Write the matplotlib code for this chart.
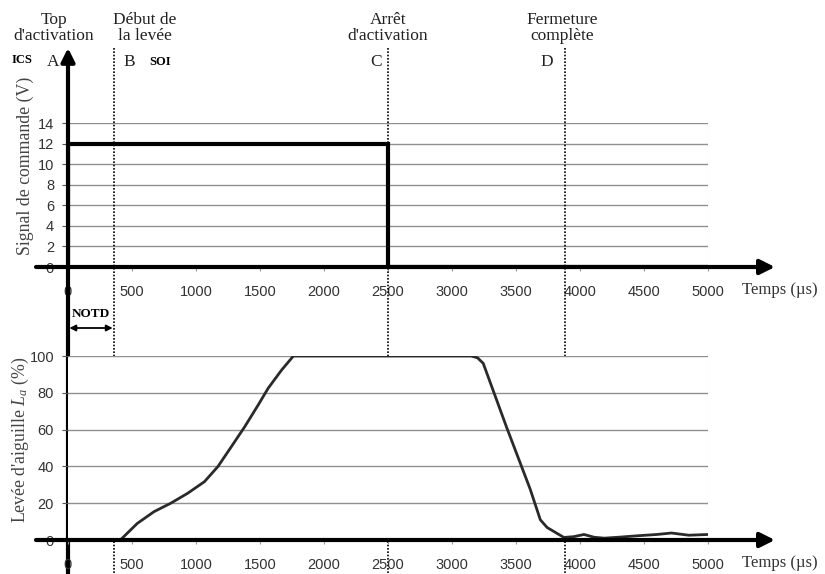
"""Chronogramme d'injection : signal de commande et levée d'aiguille."""

import matplotlib

matplotlib.use("Agg")

import matplotlib.pyplot as plt  # noqa: E402
import matplotlib.transforms as mtransforms  # noqa: E402

# --- données ---
time_ticks = [0, 500, 1000, 1500, 2000, 2500, 3000, 3500, 4000, 4500, 5000]

cmd_t = [0, 0, 2500, 2500, 5000]
cmd_v = [0, 12, 12, 0, 0]
cmd_ticks = [0, 2, 4, 6, 8, 10, 12, 14]

lift_t = [0, 409, 541, 672, 803, 935, 1066, 1171, 1276, 1381, 1486, 1564,
          1669, 1761, 2500, 3150, 3200, 3244, 3428, 3611, 3690, 3743, 3874,
          3950, 4031, 4110, 4189, 4300, 4449, 4600, 4714, 4850, 5000]
lift_v = [0, 0, 9, 15.4, 20, 25.4, 31.7, 39.9, 50.7, 61.6, 73.4, 82.5,
          92.4, 100, 100, 100, 99, 96, 61, 27.6, 11, 6.8, 1.4,
          1.8, 3, 1.5, 1, 1.5, 2.3, 3, 3.8, 2.6, 3]
lift_ticks = [0, 20, 40, 60, 80, 100]

event_t = [0, 360, 2500, 3880]
event_letters = ["A", "B", "C", "D"]
event_titles = ["Top\nd'activation", "Début de\nla levée",
                "Arrêt\nd'activation", "Fermeture\ncomplète"]
notd_t = [0, 360]

W, H = 825, 574
SERIF = "Liberation Serif"
SANS = "Liberation Sans"

plt.rcParams["mathtext.fontset"] = "custom"
plt.rcParams["mathtext.rm"] = SERIF
plt.rcParams["mathtext.it"] = SERIF + ":italic"


def fy(px):
    return 1 - px / H


fig = plt.figure(figsize=(W / 100, H / 100), dpi=100)
x0, x1 = 68, 708
ax_top = fig.add_axes([x0 / W, fy(267), (x1 - x0) / W, (267 - 123) / H])
ax_bot = fig.add_axes([x0 / W, fy(540), (x1 - x0) / W, (540 - 356) / H])

for ax, ticks, ymax, label_y in ((ax_top, cmd_ticks, 14, 290), (ax_bot, lift_ticks, 100, 563)):
    ax.set_xlim(0, 5000)
    ax.set_ylim(0, ymax)
    for s in ax.spines.values():
        s.set_visible(False)
    ax.set_xticks(time_ticks)
    ax.set_yticks(ticks)
    ax.tick_params(axis="x", length=3, direction="out", color="#999999",
                   pad=10, labelsize=10.5, labelcolor="#333333")
    ax.tick_params(axis="y", length=4, direction="out", color="#555555",
                   pad=6, labelsize=10.5, labelcolor="#333333")
    for lab in ax.get_xticklabels() + ax.get_yticklabels():
        lab.set_fontfamily(SANS)
    for v in ticks[1:]:
        ax.plot([0, 5000], [v, v], color="#909090", lw=1.0, zorder=1)
    ax.plot([5000, 5000], [0, ymax], color="#aaaaaa", lw=0.8, ls=":", zorder=1)
    # axe horizontal avec flèche
    ax.annotate("", xy=(5523, 0), xytext=(-250, 0), annotation_clip=False,
                arrowprops=dict(arrowstyle="-|>", lw=3, color="black",
                                mutation_scale=22, shrinkA=0, shrinkB=0),
                zorder=5)
    fig.text(742 / W, fy(label_y), "Temps (µs)", ha="left", va="center",
             fontsize=12, family=SERIF, color="#333333")

ax_top.plot(cmd_t, cmd_v, color="black", lw=3, zorder=4, solid_joinstyle="miter")
ax_bot.plot(lift_t, lift_v, color="#2a2a2a", lw=2, zorder=4)

blend = mtransforms.blended_transform_factory(ax_top.transData, fig.transFigure)

# axe vertical continu avec flèche
ax_top.annotate("", xy=(0, fy(48)), xycoords=blend, xytext=(0, 0), textcoords=blend,
                annotation_clip=False,
                arrowprops=dict(arrowstyle="-|>", lw=3, color="black",
                                mutation_scale=20, shrinkA=0, shrinkB=0))

# lignes d'événements pointillées
for t in event_t[1:]:
    ax_top.plot([t, t], [fy(48), 0], transform=blend, color="black", lw=1.2,
                ls=(0, (1, 1)), clip_on=False, zorder=3)

title_dx = [-14, 31, 0, -2]
letter_dx = [-15, 15, -12, -18]
for t, title, letter, tdx, ldx in zip(event_t, event_titles, event_letters, title_dx, letter_dx):
    ax_top.annotate(title, xy=(t, fy(28)), xycoords=blend, xytext=(tdx, 0),
                    textcoords="offset pixels", ha="center", va="center",
                    fontsize=12.5, family=SERIF, color="#222222", linespacing=1.05)
    ax_top.annotate(letter, xy=(t, fy(62)), xycoords=blend, xytext=(ldx, 0),
                    textcoords="offset pixels", ha="center", va="center",
                    fontsize=12.5, family=SERIF, color="#222222")

ax_top.annotate("ICS", xy=(0, fy(60)), xycoords=blend, xytext=(-46, 0),
                textcoords="offset pixels", ha="center", va="center",
                fontsize=9, family=SERIF, weight="bold")
ax_top.annotate("SOI", xy=(event_t[1], fy(62)), xycoords=blend, xytext=(46, 0),
                textcoords="offset pixels", ha="center", va="center",
                fontsize=9, family=SERIF, weight="bold")

# NOTD
ax_top.annotate("NOTD", xy=(sum(notd_t) / 2, fy(314)), xycoords=blend,
                ha="center", va="center", fontsize=9.5, family=SERIF, weight="bold")
ax_top.annotate("", xy=(notd_t[1], fy(328)), xycoords=blend,
                xytext=(notd_t[0], fy(328)), textcoords=blend,
                arrowprops=dict(arrowstyle="<|-|>", lw=1.3, color="black",
                                mutation_scale=9, shrinkA=1, shrinkB=1))

fig.text(25 / W, fy(166), "Signal de commande (V)", rotation=90, ha="center",
         va="center", fontsize=12.8, family=SERIF, color="#444444")
fig.text(20 / W, fy(440), "Levée d'aiguille $L_a$ (%)", rotation=90, ha="center",
         va="center", fontsize=12.8, family=SERIF, color="#444444")

fig.savefig("out.png", dpi=100)
plt.close(fig)
